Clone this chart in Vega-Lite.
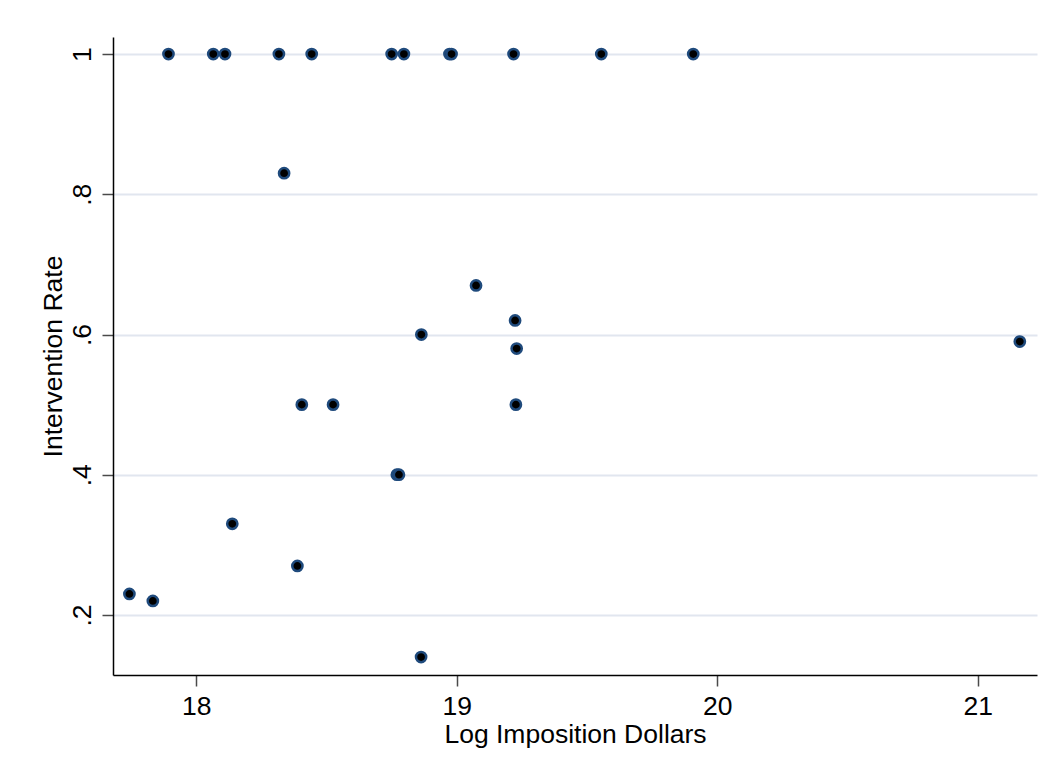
{
  "$schema": "https://vega.github.io/schema/vega-lite/v6.json",
  "autosize": {"type": "none"},
  "padding": {"left": 113, "top": 37, "right": 13, "bottom": 99},
  "width": 924,
  "height": 638,
  "background": "white",
  "config": {
    "font": "Liberation Sans",
    "view": {"stroke": null}
  },
  "data": {
    "values": [
      {"logdollars": 17.743, "rate": 0.23},
      {"logdollars": 17.833, "rate": 0.22},
      {"logdollars": 17.893, "rate": 1},
      {"logdollars": 18.065, "rate": 1},
      {"logdollars": 18.110, "rate": 1},
      {"logdollars": 18.138, "rate": 0.33},
      {"logdollars": 18.317, "rate": 1},
      {"logdollars": 18.337, "rate": 0.83},
      {"logdollars": 18.388, "rate": 0.27},
      {"logdollars": 18.405, "rate": 0.50},
      {"logdollars": 18.443, "rate": 1},
      {"logdollars": 18.525, "rate": 0.50},
      {"logdollars": 18.750, "rate": 1},
      {"logdollars": 18.770, "rate": 0.40},
      {"logdollars": 18.778, "rate": 0.40},
      {"logdollars": 18.797, "rate": 1},
      {"logdollars": 18.863, "rate": 0.14},
      {"logdollars": 18.864, "rate": 0.60},
      {"logdollars": 18.972, "rate": 1},
      {"logdollars": 18.980, "rate": 1},
      {"logdollars": 19.074, "rate": 0.67},
      {"logdollars": 19.218, "rate": 1},
      {"logdollars": 19.224, "rate": 0.62},
      {"logdollars": 19.230, "rate": 0.58},
      {"logdollars": 19.227, "rate": 0.50},
      {"logdollars": 19.555, "rate": 1},
      {"logdollars": 19.908, "rate": 1},
      {"logdollars": 21.162, "rate": 0.59}
    ]
  },
  "mark": {
    "type": "point",
    "shape": "circle",
    "filled": true,
    "fill": "black",
    "stroke": "#1f4a7c",
    "strokeWidth": 2.5,
    "size": 105,
    "opacity": 1,
    "fillOpacity": 1,
    "strokeOpacity": 1
  },
  "encoding": {
    "x": {
      "field": "logdollars",
      "type": "quantitative",
      "scale": {"domain": [17.68, 21.228], "nice": false, "zero": false},
      "axis": {
        "title": "Log Imposition Dollars",
        "values": [18, 19, 20, 21],
        "grid": false,
        "domainColor": "black",
        "domainWidth": 1.5,
        "tickColor": "#4a4a4a",
        "tickWidth": 1.5,
        "tickSize": 11,
        "labelFontSize": 26.5,
        "labelColor": "black",
        "labelBaseline": "alphabetic",
        "labelPadding": 28.5,
        "labelFlush": false,
        "titleFontSize": 26.5,
        "titleFontWeight": "normal",
        "titleColor": "black",
        "titleBaseline": "alphabetic",
        "titleY": 67.5
      }
    },
    "y": {
      "field": "rate",
      "type": "quantitative",
      "scale": {"domain": [0.1144, 1.0243], "nice": false, "zero": false},
      "axis": {
        "title": "Intervention Rate",
        "values": [0.2, 0.4, 0.6, 0.8, 1],
        "labelExpr": "datum.value > 0.99 ? '1' : replace(format(datum.value, '.1f'), '0.', '.')",
        "grid": true,
        "gridColor": "#e1e6ef",
        "gridWidth": 2,
        "domainColor": "black",
        "domainWidth": 1.5,
        "tickColor": "#4a4a4a",
        "tickWidth": 1.5,
        "tickSize": 11,
        "labelFontSize": 26.5,
        "labelColor": "black",
        "labelAngle": -90,
        "labelAlign": "center",
        "labelBaseline": "alphabetic",
        "labelPadding": 11.3,
        "labelFlush": false,
        "titleFontSize": 26.5,
        "titleFontWeight": "normal",
        "titleColor": "black",
        "titleAngle": -90,
        "titleBaseline": "alphabetic",
        "titleX": -51.3
      }
    }
  }
}
